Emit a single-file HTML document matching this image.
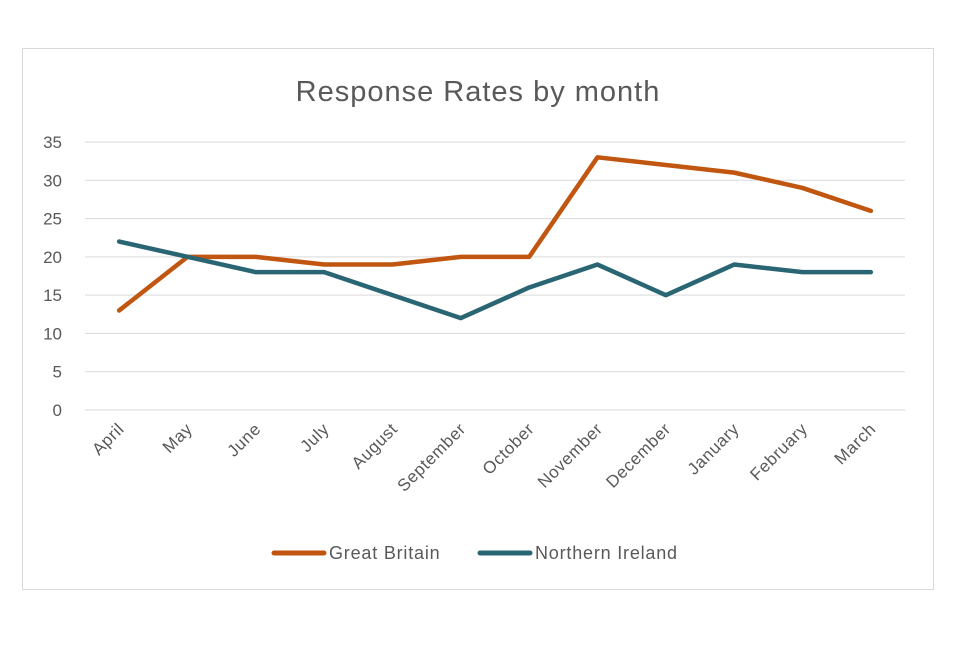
<!DOCTYPE html>
<html><head><meta charset="utf-8"><style>
body{margin:0;background:#fff;width:960px;height:640px;overflow:hidden;font-family:"Liberation Sans",sans-serif}
</style></head><body>
<svg width="960" height="640">
<rect x="22.5" y="48.5" width="911" height="541" fill="#fff" stroke="#d9d9d9"/>
<text x="478" y="101" text-anchor="middle" font-size="29" letter-spacing="1" fill="#595959">Response Rates by month</text>
<g id="grid"></g><g id="yl"></g><g id="xl"></g><g id="lines"></g>
<g>
<line x1="274" y1="553" x2="324" y2="553" stroke="#c0560f" stroke-width="5" stroke-linecap="round"/>
<text x="329" y="559" font-size="18" letter-spacing="0.8" fill="#595959">Great Britain</text>
<line x1="480" y1="553" x2="530" y2="553" stroke="#2a6574" stroke-width="5" stroke-linecap="round"/>
<text x="535" y="559" font-size="18" letter-spacing="0.8" fill="#595959">Northern Ireland</text>
</g>
</svg>
<script>
const months=["April","May","June","July","August","September","October","November","December","January","February","March"];
const gb=[13,20,20,19,19,20,20,33,32,31,29,26];
const ni=[22,20,18,18,15,12,16,19,15,19,18,18];
const yTicks=[0,5,10,15,20,25,30,35];
const NS="http://www.w3.org/2000/svg";
const L=85,R=905,Y0=410,Y35=142;
const x=i=>L+(R-L)/months.length*(i+0.5);
const y=v=>Y0-(Y0-Y35)*v/35;
function mk(t,a,p){const e=document.createElementNS(NS,t);for(const k in a)e.setAttribute(k,a[k]);document.getElementById(p).appendChild(e);return e;}
yTicks.forEach(v=>{
 const g=mk("line",{x1:L,x2:R,y1:y(v),y2:y(v),stroke:"#d9d9d9","stroke-width":1},"grid");
 
 
 const t=mk("text",{x:62,y:y(v)+6,"text-anchor":"end","font-size":17,fill:"#595959"},"yl");
 t.textContent=v;
 
 
});
months.forEach((m,i)=>{
 const t=mk("text",{x:x(i)+6,y:430,"text-anchor":"end","font-size":17,"letter-spacing":0.6,fill:"#595959",transform:`rotate(-45 ${x(i)+6} 430)`},"xl");
 t.textContent=m;
 
 
});
[[gb,"#c0560f","great-britain"],[ni,"#2a6574","northern-ireland"]].forEach(([d,c,n])=>{
 const p=mk("polyline",{points:d.map((v,i)=>x(i)+","+y(v)).join(" "),fill:"none",stroke:c,"stroke-width":4.5,"stroke-linejoin":"round","stroke-linecap":"round"},"lines");
 
 
});
</script>
</body></html>
